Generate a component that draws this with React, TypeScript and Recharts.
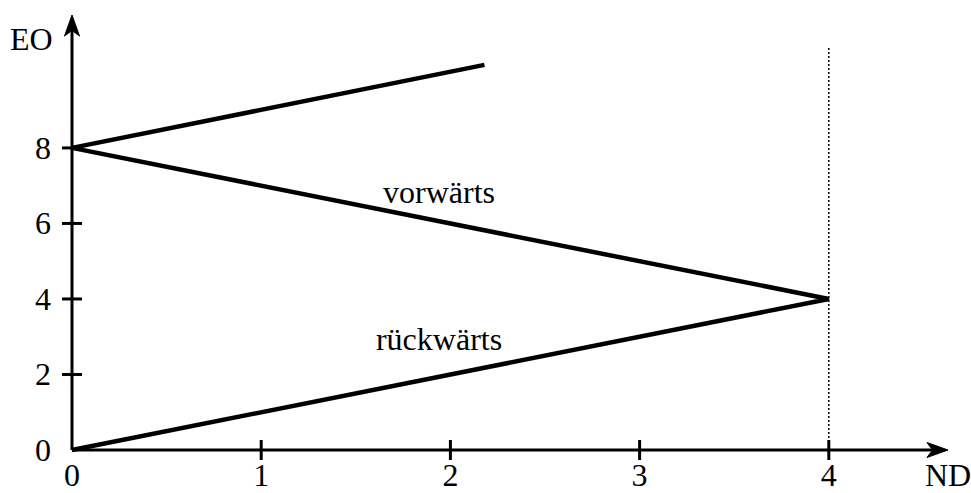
import { LineChart, Line, XAxis, YAxis, ReferenceLine, ReferenceDot } from 'recharts';

// path of the zigzag, in data order
const ndValues = [0, 4, 0, 2.18];
const eoValues = [0, 4, 8, 10.2];

const xTicks = [0, 1, 2, 3, 4];
const yTicks = [0, 2, 4, 6, 8];

const xMax = 4.63;
const yMax = 11.52;
const dottedAt = 4;
const dottedTop = 10.65;

const notes = ['vorwärts', 'rückwärts'];
const noteNd = [1.94, 1.94];
const noteEo = [6.54, 2.65];

const data = ndValues.map((nd, i) => ({ nd, eo: eoValues[i] }));

const FONT = '"Liberation Serif", "DejaVu Serif", serif';
const FS = 32;

function ArrowAxis(props: any) {
  const { x1, y1, x2, y2 } = props;
  const dx = x2 - x1;
  const dy = y2 - y1;
  const len = Math.hypot(dx, dy) || 1;
  const ux = dx / len;
  const uy = dy / len;
  const px = -uy;
  const py = ux;
  const L = 21;
  const W = 7.5;
  const N = 14;
  const bx = x2 - ux * L;
  const by = y2 - uy * L;
  const nx = x2 - ux * N;
  const ny = y2 - uy * N;
  const d = `M${x2},${y2} L${bx + px * W},${by + py * W} Q${x2 - ux * (N + 2)},${y2 - uy * (N + 2)} ${nx},${ny} Q${x2 - ux * (N + 2)},${y2 - uy * (N + 2)} ${bx - px * W},${by - py * W} Z`;
  return (
    <g>
      <line x1={x1} y1={y1} x2={nx} y2={ny} stroke="#000" strokeWidth={3} />
      <path d={d} fill="#000" stroke="#000" strokeWidth={1} strokeLinejoin="miter" />
    </g>
  );
}

function XTick(props: any) {
  const { x, y, payload } = props;
  return (
    <g>
      {payload.value !== 0 && (
        <line x1={x} y1={y - 10} x2={x} y2={y + 10} stroke="#000" strokeWidth={3} />
      )}
      <text x={x} y={y + 36} textAnchor="middle" fontFamily={FONT} fontSize={FS} fill="#000">
        {payload.value}
      </text>
    </g>
  );
}

function YTick(props: any) {
  const { x, y, payload } = props;
  return (
    <g>
      {payload.value !== 0 && (
        <line x1={x - 10} y1={y} x2={x + 10} y2={y} stroke="#000" strokeWidth={3} />
      )}
      <text x={x - 21} y={y + 11} textAnchor="end" fontFamily={FONT} fontSize={FS} fill="#000">
        {payload.value}
      </text>
    </g>
  );
}

function AxisTitle(props: any) {
  const { viewBox, text, dx, dy } = props;
  return (
    <text x={viewBox.x + dx} y={viewBox.y + dy} fontFamily={FONT} fontSize={FS} fill="#000">
      {text}
    </text>
  );
}

function NoteText(props: any) {
  const { cx, cy, text } = props;
  return (
    <text x={cx} y={cy} textAnchor="middle" fontFamily={FONT} fontSize={FS} fill="#000">
      {text}
    </text>
  );
}

export default function App() {
  return (
    <div style={{ position: 'absolute', left: 0, top: 0, width: 971, height: 493, background: '#fff' }}>
      <LineChart width={971} height={493} data={data} margin={{ top: 15, right: 23, bottom: 0, left: 0 }}>
        <XAxis
          dataKey="nd"
          type="number"
          domain={[0, xMax]}
          ticks={xTicks}
          axisLine={false}
          tickLine={false}
          tickSize={0}
          tickMargin={0}
          height={43}
          tick={<XTick />}
          label={<AxisTitle text="ND" dx={853} dy={36} />}
        />
        <YAxis
          type="number"
          domain={[0, yMax]}
          ticks={yTicks}
          axisLine={false}
          tickLine={false}
          tickSize={0}
          tickMargin={0}
          width={72}
          tick={<YTick />}
          label={<AxisTitle text="EO" dx={10} dy={35} />}
        />
        <ReferenceLine
          segment={[{ x: dottedAt, y: 0 }, { x: dottedAt, y: dottedTop }]}
          stroke="#000"
          strokeWidth={1.5}
          strokeDasharray="2 2"
        />
        <ReferenceLine segment={[{ x: 0, y: 0 }, { x: xMax, y: 0 }]} shape={ArrowAxis} />
        <ReferenceLine segment={[{ x: 0, y: 0 }, { x: 0, y: yMax }]} shape={ArrowAxis} />
        <Line
          type="linear"
          dataKey="eo"
          stroke="#000"
          strokeWidth={4.5}
          dot={false}
          activeDot={false}
          isAnimationActive={false}
        />
        {notes.map((t, i) => (
          <ReferenceDot
            key={t}
            x={noteNd[i]}
            y={noteEo[i]}
            r={0}
            shape={(p: any) => <NoteText cx={p.cx} cy={p.cy} text={t} />}
          />
        ))}
      </LineChart>
    </div>
  );
}
